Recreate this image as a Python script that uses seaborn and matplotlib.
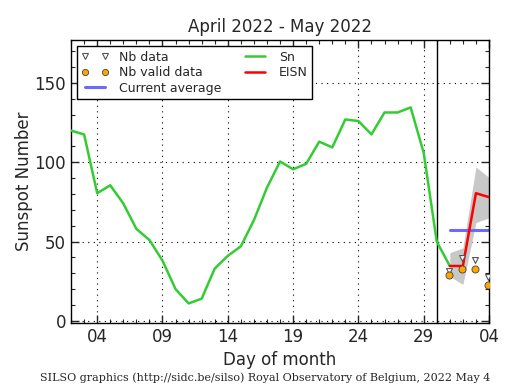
import matplotlib
matplotlib.use("Agg")
import matplotlib.pyplot as plt
import seaborn as sns
import pandas as pd
from matplotlib.ticker import MultipleLocator, FixedLocator
from matplotlib.lines import Line2D

# Day index: April 2 = 2 ... April 30 = 30, May 1 = 31 ... May 4 = 34
sn_days = list(range(2, 32))
sn_values = [120, 117.5, 80.5, 85.5, 74, 58, 51, 38, 20, 11, 14, 33, 41, 47,
             63.5, 84, 100.5, 95.6, 99, 113, 109.4, 127, 126, 117.6, 131.4,
             131.4, 134.6, 106, 50, 34.6]

eisn_days = [31, 32, 33, 34]
eisn_values = [34.6, 34.6, 80.5, 78]
eisn_low = [28, 23, 62, 65]
eisn_high = [43, 46, 97, 90.5]

nb_data = [31.4, 39.6, 38.4, 27.7]
nb_valid = [29, 32.7, 32.7, 22.6]

avg_days = [31, 34]
avg_value = [57, 57]

tick_pos = [4, 9, 14, 19, 24, 29, 34]
tick_labels = ["04", "09", "14", "19", "24", "29", "04"]

sns.set_style("ticks")
plt.rcParams['font.family'] = ['DejaVu Sans']

fig = plt.figure(figsize=(5.15, 3.9), dpi=100)
ax = fig.add_axes([0.138, 0.172, 0.8115, 0.725])

ax.fill_between(eisn_days, eisn_low, eisn_high, color="#c8c8c8", lw=0, zorder=1)

sns.lineplot(x=sn_days, y=sn_values, color="#33cc33", lw=1.8, ax=ax, zorder=3)
sns.lineplot(x=eisn_days, y=eisn_values, color="red", lw=1.8, ax=ax, zorder=4)
sns.lineplot(x=avg_days, y=avg_value, color="#6a6aff", lw=2.2, ax=ax, zorder=2)

nb_x = [d - 0.05 for d in eisn_days]
sns.scatterplot(x=nb_x, y=nb_data, marker="v", s=18, facecolor="white",
                edgecolor="#555555", linewidth=0.8, ax=ax, zorder=5)
sns.scatterplot(x=nb_x, y=nb_valid, marker="o", s=26, color="orange",
                edgecolor="#444444", linewidth=0.6, ax=ax, zorder=6)

ax.axvline(30, color="black", lw=1.0, zorder=2)

ax.set_xlim(2, 34)
ax.set_ylim(-1.3, 177)
ax.xaxis.set_major_locator(FixedLocator(tick_pos))
ax.set_xticklabels(tick_labels)
ax.xaxis.set_minor_locator(MultipleLocator(1))
ax.yaxis.set_major_locator(FixedLocator([0, 50, 100, 150]))
ax.yaxis.set_minor_locator(MultipleLocator(10))

ax.tick_params(which="both", direction="in", top=True, right=True, labelsize=12)
ax.tick_params(which="major", length=6, width=1)
ax.tick_params(which="minor", length=3, width=0.8)
for sp in ax.spines.values():
    sp.set_linewidth(1.0)
    sp.set_color("black")

ax.grid(True, which="major", color="black", linestyle=(0, (1, 4)), lw=0.8)

ax.set_title("April 2022 - May 2022", fontsize=12)
ax.set_xlabel("Day of month", fontsize=12)
ax.set_ylabel("Sunspot Number", fontsize=12, labelpad=1)

handles = [
    Line2D([], [], marker="v", ls="none", markerfacecolor="white",
           markeredgecolor="#555555", markersize=4, markeredgewidth=0.8),
    Line2D([], [], marker="o", ls="none", markerfacecolor="orange",
           markeredgecolor="#444444", markersize=4.5, markeredgewidth=0.6),
    Line2D([], [], color="#6a6aff", lw=2.2),
    Line2D([], [], color="#33cc33", lw=1.8),
    Line2D([], [], color="red", lw=1.8),
]
labels = ["Nb data", "Nb valid data", "Current average", "Sn", "EISN"]
leg = ax.legend(handles, labels, loc="upper left", ncol=2, fontsize=9,
                numpoints=2, frameon=True, fancybox=False, framealpha=1,
                borderaxespad=0.5, handlelength=2.2, columnspacing=1.6,
                labelspacing=0.2, borderpad=0.35)
leg.get_frame().set_edgecolor("black")
leg.get_frame().set_linewidth(1.0)

fig.text(0.515, 0.022, "SILSO graphics (http://sidc.be/silso) Royal Observatory of Belgium, 2022 May 4",
         ha="center", fontsize=8, family="DejaVu Serif")

fig.savefig("out.png", dpi=100)
